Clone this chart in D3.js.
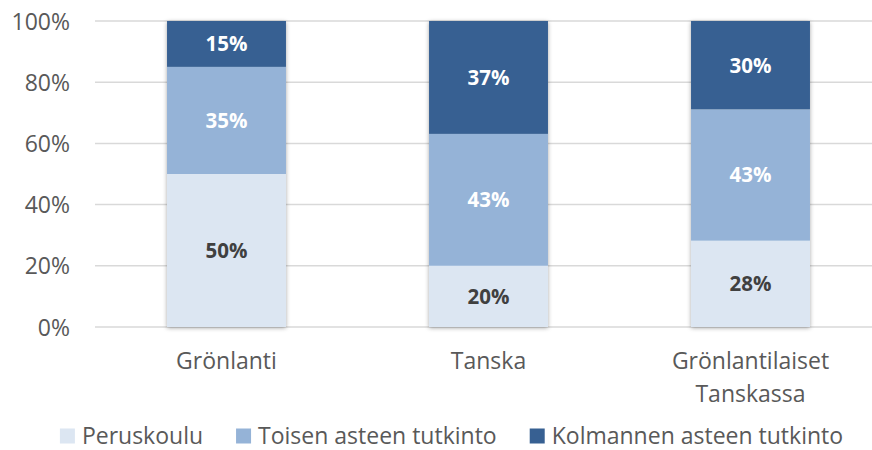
<!DOCTYPE html>
<html><head><meta charset="utf-8">
<script src="https://cdn.jsdelivr.net/npm/d3@7"></script>
<style>body{margin:0;background:#fff}svg{display:block;font-family:"Open Sans",sans-serif}</style>
</head><body><svg id="c" width="872" height="450"></svg>
<script>
const categories = [["Grönlanti"], ["Tanska"], ["Grönlantilaiset", "Tanskassa"]];
const seriesNames = ["Peruskoulu", "Toisen asteen tutkinto", "Kolmannen asteen tutkinto"];
const peruskoulu = [50, 20, 28.2];
const toisen = [35, 43.1, 42.9];
const kolmannen = [15, 36.9, 28.9];
const peruskouluLabels = ["50%", "20%", "28%"];
const toisenLabels = ["35%", "43%", "43%"];
const kolmannenLabels = ["15%", "37%", "30%"];
const yTicks = [0, 20, 40, 60, 80, 100];
const colors = ["#DCE6F2", "#95B3D7", "#376092"];
const labelColors = ["#404040", "#ffffff", "#ffffff"];

const svg = d3.select("#c");
const defs = svg.append("defs");
const f = defs.append("filter").attr("id","sh").attr("x","-20%").attr("y","-20%").attr("width","140%").attr("height","140%");
f.append("feDropShadow").attr("dx",0).attr("dy",1).attr("stdDeviation",2).attr("flood-color","#000").attr("flood-opacity",0.35);

const x = d3.scaleBand().domain(d3.range(categories.length)).range([95.5, 881.5]).paddingInner(0.546).paddingOuter(0.273);
const y = d3.scaleLinear().domain([0, 100]).range([327, 21]);

// gridlines
svg.append("g").selectAll("line").data(yTicks).join("line")
  .attr("x1", 95).attr("x2", 872)
  .attr("y1", d => y(d)).attr("y2", d => y(d))
  .attr("stroke", "#d9d9d9").attr("stroke-width", 1.5);

// y axis labels
const yAxis = d3.axisLeft(y).tickValues(yTicks).tickFormat(d => d + "%").tickSize(0).tickPadding(0);
const ya = svg.append("g").attr("transform", "translate(70,0)").call(yAxis);
ya.select(".domain").remove();
ya.selectAll("text").attr("font-size", 23).attr("fill", "#595959").attr("font-family", "Open Sans").attr("dy", "0.35em");

const rows = categories.map((c, i) => ({i, a: peruskoulu[i], b: toisen[i], c: kolmannen[i]}));
const stack = d3.stack().keys(["a", "b", "c"])(rows);
const labels = [peruskouluLabels, toisenLabels, kolmannenLabels];

const gBars = svg.append("g");
gBars.selectAll("rect.sh").data(rows).join("rect").attr("class","sh")
  .attr("x", d => x(d.i)).attr("width", x.bandwidth())
  .attr("y", d => y(d.a + d.b + d.c)).attr("height", d => y(0) - y(d.a + d.b + d.c))
  .attr("fill", "#fff").attr("filter", "url(#sh)");

stack.forEach((s, si) => {
  gBars.append("g").selectAll("rect").data(s).join("rect")
    .attr("x", d => x(d.data.i)).attr("width", x.bandwidth())
    .attr("y", d => y(d[1])).attr("height", d => y(d[0]) - y(d[1]))
    .attr("fill", colors[si]);
  gBars.append("g").selectAll("text").data(s).join("text")
    .attr("x", d => x(d.data.i) + x.bandwidth() / 2)
    .attr("y", d => (y(d[0]) + y(d[1])) / 2)
    .attr("dy", "0.36em").attr("text-anchor", "middle")
    .attr("font-size", 20.5).attr("font-weight", "bold").attr("fill", labelColors[si])
    .text((d, j) => labels[si][j]);
});

// x labels
const xl = svg.append("g").selectAll("text").data(categories).join("text")
  .attr("x", (d, i) => x(i) + x.bandwidth() / 2).attr("y", 369)
  .attr("text-anchor", "middle").attr("font-size", 23).attr("fill", "#595959");
xl.selectAll("tspan").data(d => d).join("tspan")
  .attr("x", function(){ return this.parentNode.getAttribute("x"); })
  .attr("dy", (d, k) => k === 0 ? 0 : 32.7).text(d => d);

// legend
const lg = svg.append("g");
let cx = 0;
seriesNames.forEach((n, i) => {
  const g = lg.append("g");
  g.append("rect").attr("x", 0).attr("y", -15).attr("width", 15).attr("height", 15).attr("fill", colors[i]);
  const t = g.append("text").attr("x", 22).attr("y", 0).attr("font-size", 23).attr("fill", "#595959").text(n);
  const w = 22 + t.node().getComputedTextLength();
  g.attr("transform", `translate(${cx},0)`);
  cx += w + 33;
});
const total = cx - 33;
lg.attr("transform", `translate(${451.5 - total / 2},443.5)`);
</script></body></html>
